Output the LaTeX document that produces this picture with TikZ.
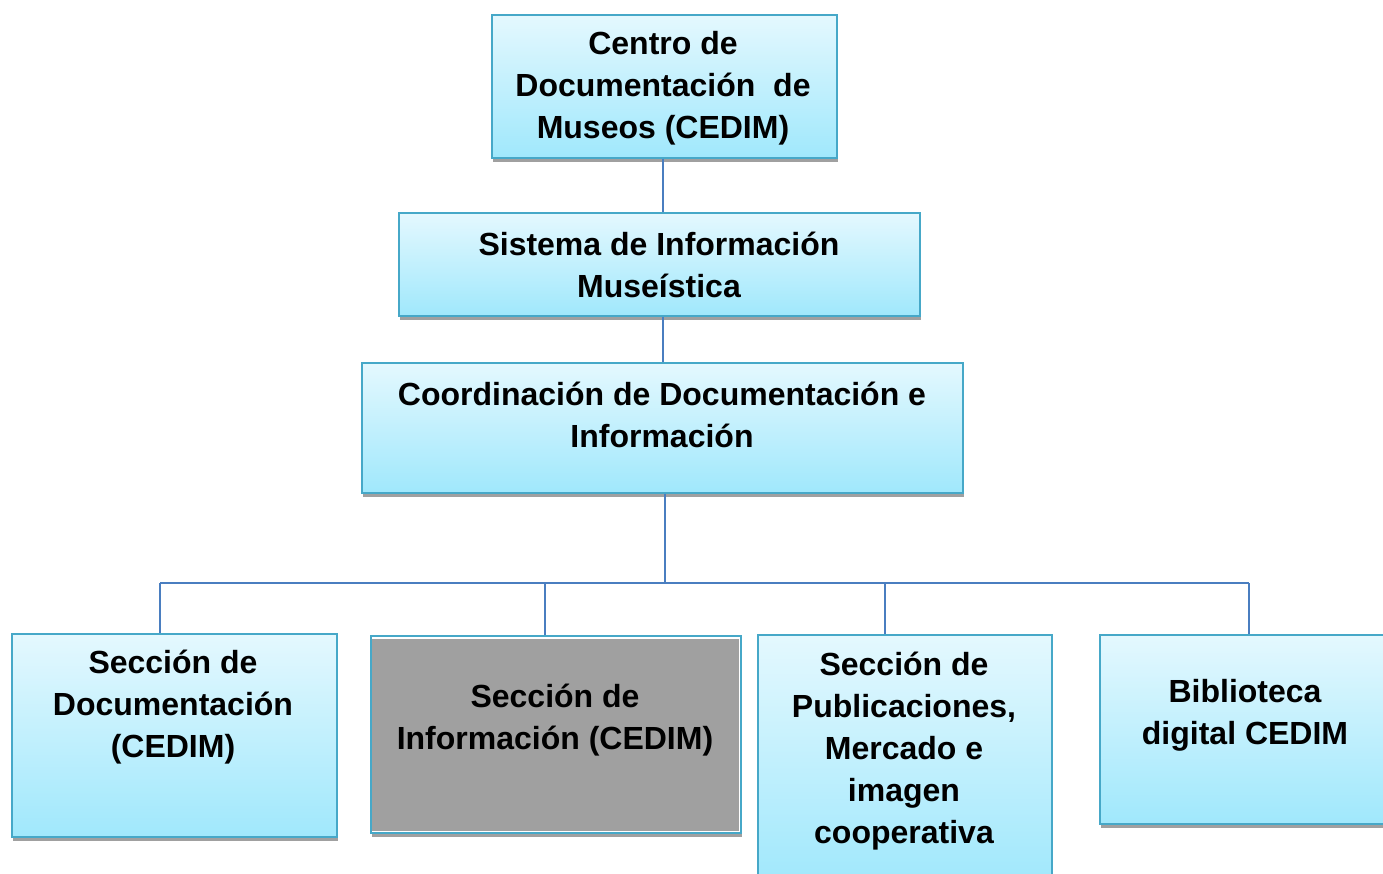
\documentclass[tikz,border=0pt]{standalone}
\usepackage{fontspec}
\setmainfont{Liberation Sans}
\definecolor{bordc}{HTML}{46A8C8}
\definecolor{topc}{HTML}{E4F8FE}
\definecolor{botc}{HTML}{A0E8FC}
\definecolor{shadowc}{HTML}{A0A0A0}
\definecolor{linec}{HTML}{4A7EC0}
\definecolor{grayc}{HTML}{A0A0A0}
\tikzset{
  orgbox/.style={draw=bordc, line width=1.5pt, top color=topc, bottom color=botc,
    rectangle, inner sep=0pt, anchor=north west,
    preaction={fill=shadowc, transform canvas={xshift=1pt,yshift=-4pt}}},
  graybox/.style={draw=bordc, line width=1.5pt, fill=white,
    rectangle, inner sep=0pt, anchor=north west,
    preaction={fill=shadowc, transform canvas={xshift=1pt,yshift=-4pt}}},
  lbl/.style={align=center, inner sep=0pt, font=\bfseries\fontsize{32}{42}\selectfont},
  conn/.style={draw=linec, line width=2.5pt}
}
\begin{document}
\begin{tikzpicture}[x=1pt,y=-1pt]
\useasboundingbox (0,0) rectangle (1383,873);
% boxes
\node[orgbox, minimum width=345pt, minimum height=143pt] (top) at (491,14) {};
\node[orgbox, minimum width=521pt, minimum height=103pt] (sis) at (398,212) {};
\node[orgbox, minimum width=601pt, minimum height=130pt] (coord) at (361,362) {};
\node[orgbox, minimum width=325pt, minimum height=203pt] (doc) at (11,633) {};
\node[graybox, minimum width=370pt, minimum height=197pt] (info) at (370,635) {};
\fill[grayc] (371.5,639) rectangle (738.5,831);
\node[orgbox, minimum width=294pt, minimum height=250pt] (pub) at (757,634) {};
\node[orgbox, minimum width=295pt, minimum height=189pt] (bib) at (1099,634) {};
% connectors
\coordinate (spine) at (663,0);
\coordinate (bus) at (665,583);
\coordinate (busL) at (160,583);
\coordinate (busR) at (1249,583);
\coordinate (dInfo) at (545,583);
\coordinate (dPub) at (885,583);
\draw[conn] (spine |- top.south) -- (spine |- sis.north);
\draw[conn] (spine |- sis.south) -- (spine |- coord.north);
\draw[conn] (bus |- coord.south) -- (bus);
\draw[conn] (busL) -- (busR);
\draw[conn] (busL) -- (busL |- doc.north);
\draw[conn] (dInfo) -- (dInfo |- info.north);
\draw[conn] (dPub) -- (dPub |- pub.north);
\draw[conn] (busR) -- (busR |- bib.north);
% labels
\node[lbl] (ttop) at (663,88) {Centro de\\Documentación\ \ de\\Museos (CEDIM)};
\node[lbl] (tsis) at (659,265) {Sistema de Información\\Museística};
\node[lbl] (tcoord) at (662,415) {Coordinación de Documentación e\\Información};
\node[lbl] (tdoc) at (173,707) {Sección de\\Documentación\\(CEDIM)};
\node[lbl] (tinfo) at (555,720) {Sección de\\Información (CEDIM)};
\node[lbl] (tpub) at (904,751) {Sección de\\Publicaciones,\\Mercado e\\imagen\\cooperativa};
\node[lbl] (tbib) at (1245,715) {Biblioteca\\digital CEDIM};
\end{tikzpicture}
\end{document}
